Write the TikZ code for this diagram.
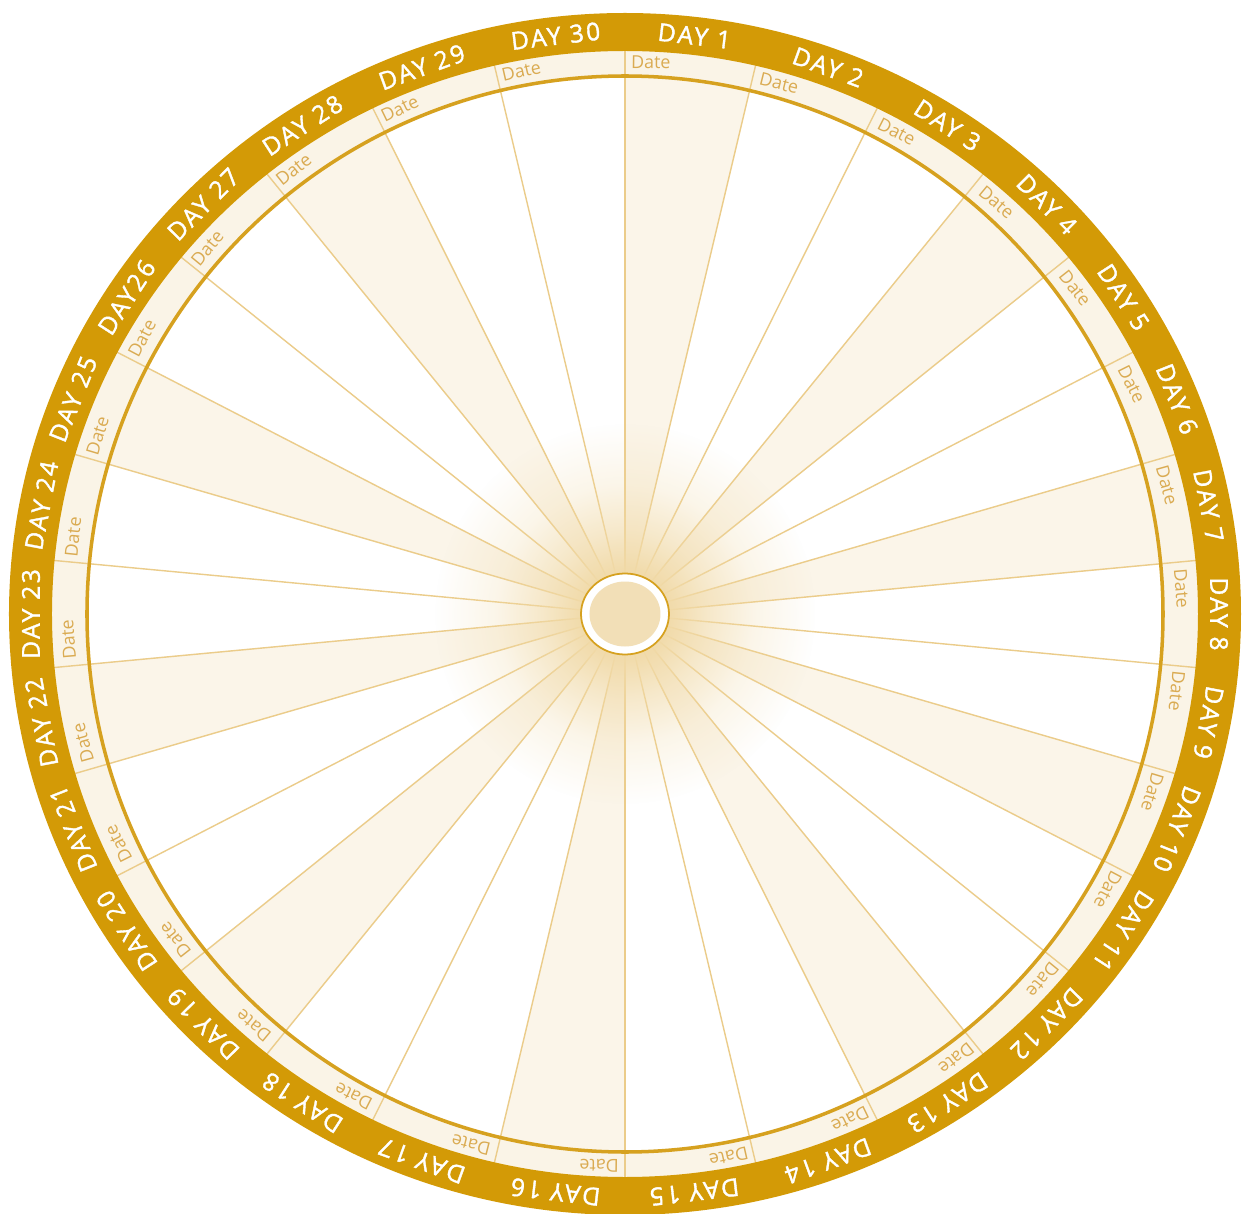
\documentclass[tikz,border=0pt]{standalone}
\usepackage{fontspec}
\setmainfont{Open Sans}
\newfontfamily\dayfont[LetterSpace=10,FakeBold=1.5]{Open Sans}
\usetikzlibrary{fadings}
\definecolor{wheelgold}{HTML}{D39A06}
\definecolor{ringcream}{HTML}{FAF4E7}
\definecolor{wedgecream}{HTML}{FBF5E9}
\definecolor{spokegold}{HTML}{EBCC8A}
\definecolor{linegold}{HTML}{D6A11F}
\definecolor{datetext}{HTML}{DAAB52}
\definecolor{glowtan}{HTML}{F1DAA8}
\definecolor{hubtan}{HTML}{F2DFB7}
\pgfdeclareradialshading{glowshade}{\pgfpointorigin}{color(0bp)=(transparent!0); color(6bp)=(transparent!5); color(11bp)=(transparent!40); color(17bp)=(transparent!75); color(25bp)=(transparent!100); color(50bp)=(transparent!100)}
\pgfdeclarefading{glowfade}{\pgfuseshading{glowshade}}
% squeeze of the wheel: angle on the page for a day angle
\newcommand{\wheelang}[2]{\pgfmathsetmacro#1{atan2(sin(#2),1.12*cos(#2))}}

\begin{document}
\begin{tikzpicture}[x=0.02cm, y=0.02cm,
  daylbl/.style={text=white, font=\dayfont\fontsize{14}{15}\selectfont, inner sep=0},
  datelbl/.style={text=datetext, font=\fontsize{10.2}{11}\selectfont, inner sep=0, anchor=west},
  spoke/.style={draw=spokegold, line width=0.8pt},
]
\useasboundingbox (-625,-600) rectangle (623,614);
% date ring and inner face
\fill[ringcream] (0,0) ellipse [x radius=575, y radius=565];
\fill[white] (0,0) circle (538);

% shaded wedges, every third day
\foreach \k in {1,4,...,28}{
  \wheelang{\pa}{102-12*\k}
  \wheelang{\pb}{90-12*\k}
  \filldraw[wedgecream, line width=0.6pt] (0,0) -- (\pa:538) arc [start angle=\pa, end angle=\pb, radius=538] -- cycle;
}

% spokes and date ring dividers
\foreach \j in {0,...,29}{
  \wheelang{\pa}{90-12*\j}
  \draw[spoke] (0,0) -- (\pa:580);
}
\draw[linegold, line width=2pt] (0,0) circle (538);

% gold band over the divider ends
\fill[wheelgold, even odd rule] (0,0) ellipse [x radius=616, y radius=601]
  (0,0) ellipse [x radius=573, y radius=563];

% glow round the hub
\fill[glowtan, path fading=glowfade] (0,0) circle (190);
\draw[linegold, line width=1pt, fill=white] (0,0) ellipse [x radius=44, y radius=40.5];
\fill[hubtan] (0,0) ellipse [x radius=35.5, y radius=32.5];

% day names and date fields
\foreach \k/\txt in {1/DAY 1,2/DAY 2,3/DAY 3,4/DAY 4,5/DAY 5,6/DAY 6,7/DAY 7,8/DAY 8,
  9/DAY 9,10/DAY 10,11/DAY 11,12/DAY 12,13/DAY 13,14/DAY 14,15/DAY 15,16/DAY 16,
  17/DAY 17,18/DAY 18,19/DAY 19,20/DAY 20,21/DAY 21,22/DAY 22,23/DAY 23,24/DAY 24,
  25/DAY 25,26/DAY26,27/DAY 27,28/DAY 28,29/DAY 29,30/DAY 30}{
  \wheelang{\pc}{96-12*\k}
  \node[daylbl, rotate=\pc-90] (day\k) at (\pc:594 and 582) {\txt};
  \wheelang{\pd}{102-12*\k}
  \pgfmathsetmacro\pe{\pd-0.6}
  \node[datelbl, rotate=\pe-90] (date\k) at (\pe:557 and 552) {Date};
}
\end{tikzpicture}
\end{document}
